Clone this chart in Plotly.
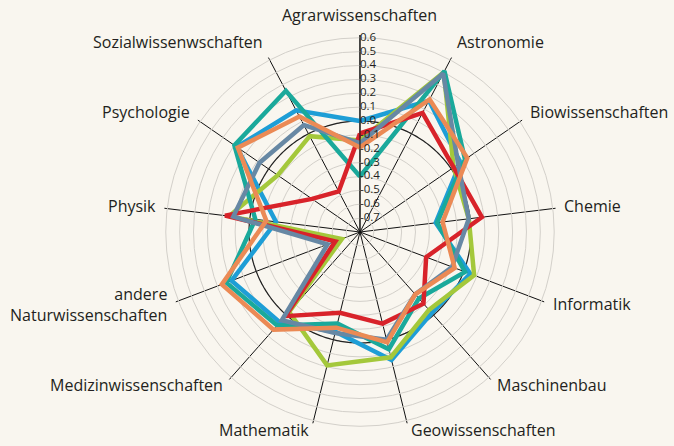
import numpy as np
import plotly.graph_objects as go

categories = ["Agrarwissenschaften", "Astronomie", "Biowissenschaften", "Chemie",
              "Informatik", "Maschinenbau", "Geowissenschaften", "Mathematik",
              "Medizinwissenschaften", "andere<br>Naturwissenschaften", "Physik",
              "Psychologie", "Sozialwissenwschaften"]

red    = [-0.09, 0.17, 0.02, 0.085, -0.29, -0.11, -0.12, -0.20, 0.01, -0.61, 0.18, -0.38, -0.47]
blue   = [0.00, 0.27, 0.08, -0.25, 0.05, -0.02, 0.15, -0.06, 0.07, 0.19, -0.19, 0.28, 0.19]
green  = [-0.14, 0.50, 0.02, -0.01, 0.08, -0.05, 0.13, 0.19, -0.03, -0.66, 0.15, -0.08, -0.02]
teal   = [-0.40, 0.51, 0.12, -0.24, 0.01, -0.16, 0.07, -0.12, 0.10, 0.23, -0.04, 0.30, 0.35]
orange = [-0.19, 0.28, 0.14, -0.20, -0.07, -0.20, 0.02, -0.09, 0.14, 0.265, -0.12, 0.27, 0.14]
gray   = [-0.16, 0.49, 0.06, -0.01, -0.09, -0.20, 0.00, -0.05, 0.05, -0.55, 0.12, 0.08, 0.07]

radial_ticks = [0.6, 0.5, 0.4, 0.3, 0.2, 0.1, 0.0, -0.1, -0.2, -0.3, -0.4, -0.5, -0.6, -0.7]
radial_labels = ["0.6", "0.5", "0.4", "0.3", "0.2", "0.1", "0.0", "-0.1", "-0.2", "-0.3",
                 "-0.4", "-0.5", "-0.6", "-0.7"]

W, H = 674, 446
DOM_X = [0.2418, 0.8264]
DOM_Y = [0.0381, 0.9215]
R_MIN, R_MAX = -0.8, 0.62

n = len(categories)
angles = [i * 360.0 / n for i in range(n)]
theta_closed = angles + [360.0]

series = [
    ("blue", blue, "#1e9ed6"),
    ("green", green, "#a4c83b"),
    ("teal", teal, "#1aa99b"),
    ("red", red, "#d8232a"),
    ("gray", gray, "#6788a4"),
    ("orange", orange, "#eb8a55"),
]

fig = go.Figure()

# black reference circle at 0.0
circ_theta = np.linspace(0, 360, 361)
fig.add_trace(go.Scatterpolar(r=np.zeros_like(circ_theta), theta=circ_theta, mode="lines",
                              line=dict(color="#222222", width=1.2), hoverinfo="skip",
                              showlegend=False))

for name, vals, col in series:
    fig.add_trace(go.Scatterpolar(r=vals + [vals[0]], theta=theta_closed, mode="lines",
                                  name=name, line=dict(color=col, width=4.5),
                                  showlegend=False))

# radial tick labels (horizontal, right of the vertical axis)
fig.add_trace(go.Scatterpolar(r=radial_ticks, theta=[0.0] * len(radial_ticks), mode="text",
                              text=radial_labels, textposition="middle right",
                              textfont=dict(size=11.5, color="#231f20", family="Open Sans"),
                              hoverinfo="skip", showlegend=False, cliponaxis=False))

# category labels placed just outside the polar frame, derived from the polar geometry
cx = (DOM_X[0] + DOM_X[1]) / 2
cy = (DOM_Y[0] + DOM_Y[1]) / 2
radius_px = (DOM_X[1] - DOM_X[0]) * W / 2
label_px = radius_px * 1.035
annotations = []
for cat, th in zip(categories, angles):
    phi = np.radians(90.0 - th)
    c, s = np.cos(phi), np.sin(phi)
    xanchor = "left" if c > 0.2 else ("right" if c < -0.2 else "center")
    annotations.append(dict(
        x=cx + label_px * c / W, y=cy + label_px * s / H, xref="paper", yref="paper",
        text=cat, showarrow=False, xanchor=xanchor, yanchor="middle",
        yshift=(8 * s + 5 * s ** 8) if s > 0 else 0, align="right",
        font=dict(size=16, color="#231f20", family="Open Sans")))

bg = "#f9f6ef"
fig.update_layout(
    width=W, height=H,
    paper_bgcolor=bg, plot_bgcolor=bg,
    margin=dict(l=0, r=0, t=0, b=0),
    font=dict(family="Open Sans", color="#231f20"),
    annotations=annotations,
    polar=dict(
        bgcolor=bg,
        domain=dict(x=DOM_X, y=DOM_Y),
        angularaxis=dict(rotation=90, direction="clockwise", tickmode="array",
                         tickvals=angles, showticklabels=False,
                         showgrid=True, gridcolor="#111111", gridwidth=1, showline=False,
                         ticks=""),
        radialaxis=dict(range=[R_MIN, R_MAX], tickmode="array", tickvals=radial_ticks,
                        showticklabels=False, angle=90, showline=True,
                        linecolor="#111111", linewidth=1, gridcolor="#d3d0ca",
                        gridwidth=1.3, ticks=""),
    ),
)

fig.write_html("out.html", config={"displayModeBar": False},
               post_script="document.body.style.margin='0px';document.body.style.padding='0px';")
